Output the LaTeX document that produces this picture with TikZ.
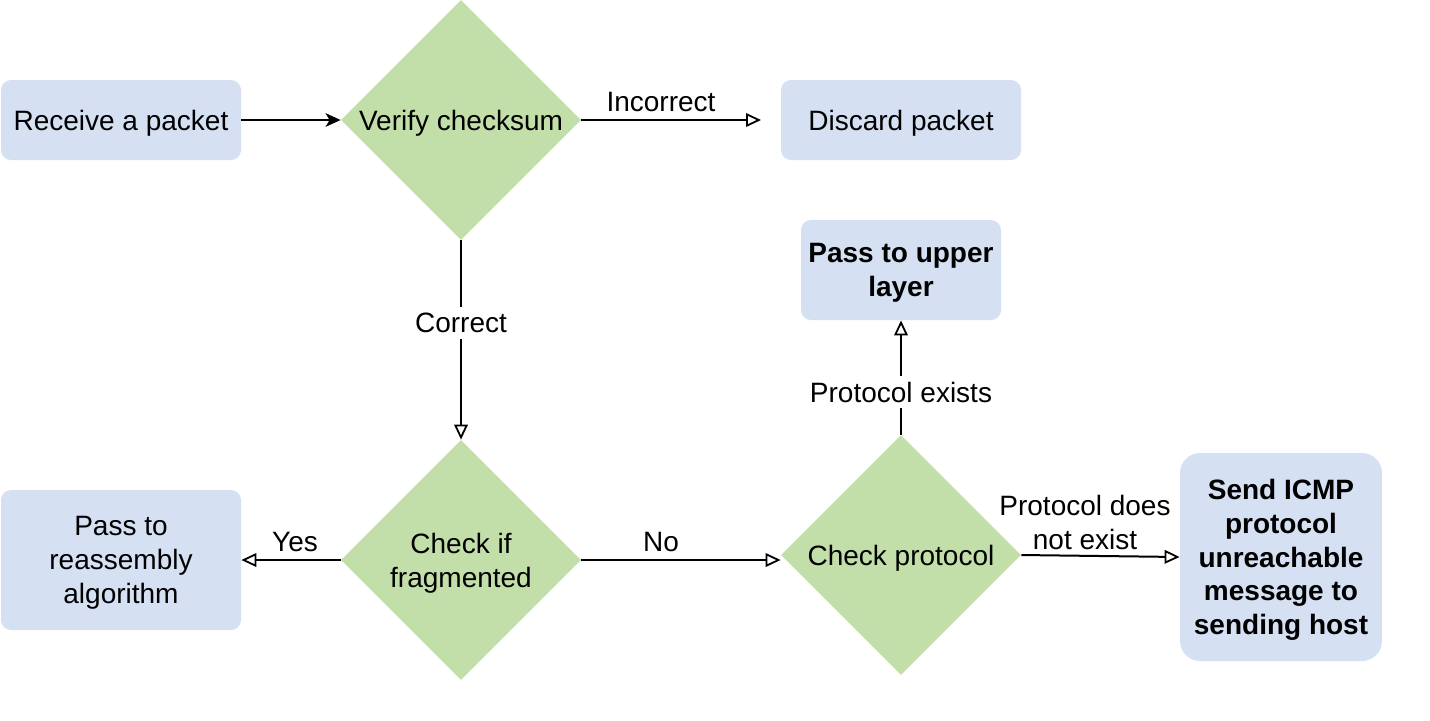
\documentclass[tikz,border=0pt]{standalone}
\usepackage{fontspec}
\setmainfont{Liberation Sans}
\usetikzlibrary{shapes.geometric,arrows.meta}
\definecolor{boxblue}{HTML}{D5E0F2}
\definecolor{diagreen}{HTML}{C2DFAA}
\tikzset{
  px/.style={x={(0.5pt,0)},y={(0,-0.5pt)}},
  box/.style={rectangle,rounded corners=5pt,fill=boxblue,draw=none,align=center,
    font=\fontsize{14}{17}\selectfont,inner sep=0pt,text depth=0pt},
  decision/.style={diamond,fill=diagreen,draw=none,minimum width=120pt,minimum height=120pt,
    inner sep=0pt,align=center,font=\fontsize{14}{17}\selectfont,text depth=0pt},
  conn/.style={line width=1pt},
  opentip/.style={conn,-{Triangle[open,length=7.5pt,width=6.8pt,line width=0.9pt]}},
  filltip/.style={conn,-{Stealth[length=7.5pt,width=6.8pt,inset=2pt]}},
  lbl/.style={font=\fontsize{14}{17}\selectfont,align=center,inner sep=1pt,text depth=0pt},
  onlbl/.style={lbl,fill=white,inner sep=3pt}
}
\begin{document}
\begin{tikzpicture}[px]
\useasboundingbox (0,0) rectangle (1430,720);
\node[box,minimum width=120pt,minimum height=40pt] (recv) at (121,120) {Receive a packet};
\node[decision] (verify) at (461,120) {\makebox[0pt]{Verify checksum}};
\node[box,minimum width=120pt,minimum height=40pt] (discard) at (901,120) {Discard packet};
\node[decision] (frag) at (461,560) {\makebox[0pt]{Check if}\\\makebox[0pt]{fragmented}};
\node[box,minimum width=120pt,minimum height=70pt] (reasm) at (121,560) {Pass to\\reassembly\\algorithm};
\node[decision] (proto) at (901,555) {\makebox[0pt]{Check protocol}};
\node[box,minimum width=100pt,minimum height=50pt,font=\fontsize{14}{17}\selectfont\bfseries] (upper) at (901,270) {Pass to upper\\layer};
\node[box,rounded corners=10pt,minimum width=101pt,minimum height=104pt,font=\fontsize{14}{16.8}\selectfont\bfseries] (icmp) at (1281,557) {Send ICMP\\protocol\\unreachable\\message to\\sending host};

\draw[filltip] (recv.east) -- (verify.west);
\coordinate (dend) at (761,120);
\draw[opentip] (verify.east) -- (dend);
\node[lbl] (lincorrect) at (661,102) {Incorrect};
\draw[opentip] (verify.south) -- (frag.north);
\node[onlbl] (lcorrect) at (461,323) {Correct};
\draw[opentip] (frag.west) -- (reasm.east);
\node[lbl] (lyes) at (295,542) {Yes};
\draw[opentip] (frag.east) -- (frag.east -| proto.west);
\node[lbl] (lno) at (661,542) {No};
\draw[opentip] (proto.north) -- (upper.south);
\node[onlbl] (lexists) at (901,392) {Protocol exists};
\draw[opentip] (proto.east) -- (icmp.west);
\node[lbl] (lnot) at (1085,522) {Protocol does\\not exist};
\end{tikzpicture}
\end{document}
